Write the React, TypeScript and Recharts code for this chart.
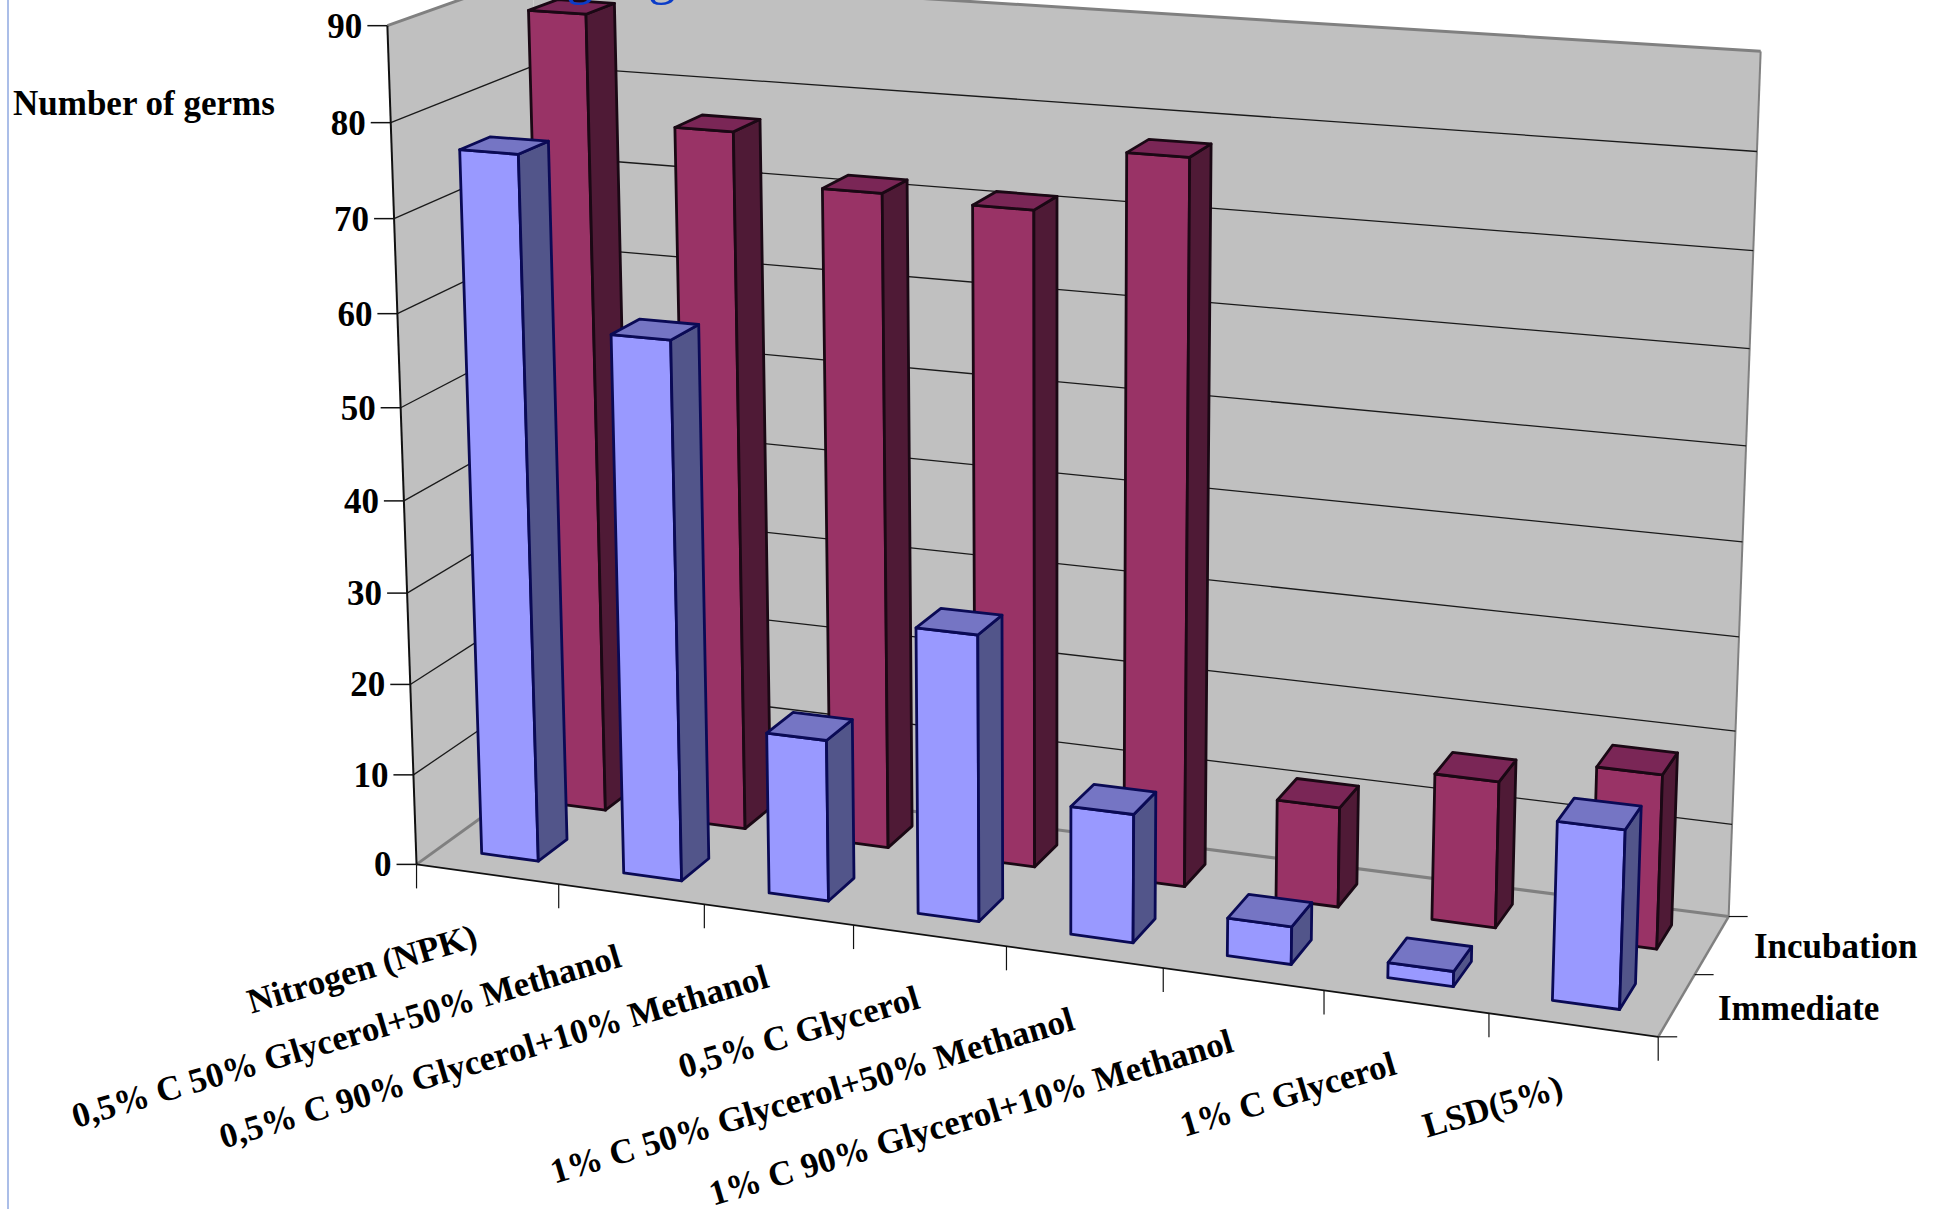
import { BarChart, Bar, XAxis, YAxis, CartesianGrid } from 'recharts';

const WIDTH = 1935;
const HEIGHT = 1209;
// The axes keep one pixel each, the bars and ticks use what is left
const PLOT_LEFT = 1;
const PLOT_WIDTH = WIDTH - 1;
const PLOT_HEIGHT = HEIGHT - 1;
const SERIF = '"Liberation Serif", serif';

const categories = [
  'Nitrogen (NPK)',
  '0,5% C 50% Glycerol+50% Methanol',
  '0,5% C 90% Glycerol+10% Methanol',
  '0,5% C Glycerol',
  '1% C 50% Glycerol+50% Methanol',
  '1% C 90% Glycerol+10% Methanol',
  '1% C Glycerol',
  'LSD(5%)',
];
const immediate = [76.5, 58.4, 17.5, 30.7, 13.7, 4, 1.6, 18.5];
const incubation = [88.2, 76.8, 71.5, 71, 77.7, 10.8, 15.7, 18.5];
const valueTicks = [0, 10, 20, 30, 40, 50, 60, 70, 80, 90];
const seriesNames = ['Immediate', 'Incubation'];
const titleLetters = ['g', 'g'];

const chartData = categories.map((category, i) => ({
  category,
  immediate: immediate[i],
  incubation: incubation[i],
}));

// Known box corners as [across, up, depth, screenX, screenY]
const anchors = [
  [0, 0, 0, 418, 865],
  [0, 1, 0, 387, 24],
  [0, 8 / 9, 0, 391, 123],
  [0, 2 / 9, 0, 410, 684],
  [1, 0, 0, 1657, 1038],
  [0, 0, 1, 553, 765],
  [0, 1, 1, 533, -25],
  [1, 0, 1, 1730, 915],
  [1, 1, 1, 1761, 51],
  [1, 8 / 9, 1, 1757, 152],
  [1, 6 / 9, 1, 1749, 349],
];

// Least squares fit of a 3x4 camera matrix, last entry fixed to 1
function solveCamera(points: number[][]) {
  const rows: number[][] = [];
  const rhs: number[] = [];
  points.forEach(([u, v, d, x, y]) => {
    rows.push([u, v, d, 1, 0, 0, 0, 0, -x * u, -x * v, -x * d]);
    rhs.push(x);
    rows.push([0, 0, 0, 0, u, v, d, 1, -y * u, -y * v, -y * d]);
    rhs.push(y);
  });
  const n = 11;
  const m = Array.from({ length: n }, (_, i) =>
    Array.from({ length: n + 1 }, (_, j) =>
      rows.reduce((sum, row, r) => sum + row[i] * (j === n ? rhs[r] : row[j]), 0),
    ),
  );
  for (let c = 0; c < n; c++) {
    let pivot = c;
    for (let r = c + 1; r < n; r++) if (Math.abs(m[r][c]) > Math.abs(m[pivot][c])) pivot = r;
    [m[c], m[pivot]] = [m[pivot], m[c]];
    for (let r = 0; r < n; r++) {
      if (r === c) continue;
      const f = m[r][c] / m[c][c];
      for (let k = c; k <= n; k++) m[r][k] -= f * m[c][k];
    }
  }
  return m.map((row, i) => row[n] / row[i]);
}

const cam = solveCamera(anchors);

function project(u: number, v: number, d: number) {
  const w = cam[8] * u + cam[9] * v + cam[10] * d + 1;
  return [
    (cam[0] * u + cam[1] * v + cam[2] * d + cam[3]) / w,
    (cam[4] * u + cam[5] * v + cam[6] * d + cam[7]) / w,
  ];
}

const toPoints = (corners: number[][]) =>
  corners.map(([u, v, d]) => project(u, v, d).map((n) => n.toFixed(1)).join(',')).join(' ');

const toAcross = (x: number) => (x - PLOT_LEFT) / PLOT_WIDTH;
const toUp = (y: number) => 1 - y / PLOT_HEIGHT;

function Segment({ from, to, stroke, width = 1.5 }: { from: number[]; to: number[]; stroke: string; width?: number }) {
  const [x1, y1] = project(from[0], from[1], from[2]);
  const [x2, y2] = project(to[0], to[1], to[2]);
  return <line x1={x1} y1={y1} x2={x2} y2={y2} stroke={stroke} strokeWidth={width} />;
}

function Walls() {
  return (
    <g>
      <polygon points={toPoints([[0, 0, 1], [1, 0, 1], [1, 1, 1], [0, 1, 1]])} fill="#C0C0C0" />
      <polygon points={toPoints([[0, 0, 0], [0, 0, 1], [0, 1, 1], [0, 1, 0]])} fill="#C0C0C0" />
      <polygon points={toPoints([[0, 0, 0], [1, 0, 0], [1, 0, 1], [0, 0, 1]])} fill="#C0C0C0" />
      <Segment from={[1, 0, 1]} to={[1, 1, 1]} stroke="#808080" width={2} />
      <Segment from={[0, 1, 1]} to={[1, 1, 1]} stroke="#808080" width={3} />
      <Segment from={[0, 1, 0]} to={[0, 1, 1]} stroke="#808080" width={3} />
      <Segment from={[0, 0, 1]} to={[1, 0, 1]} stroke="#808080" width={3} />
      <Segment from={[0, 0, 0]} to={[0, 0, 1]} stroke="#808080" width={3} />
      <Segment from={[1, 0, 0]} to={[1, 0, 1]} stroke="#808080" width={2.5} />
    </g>
  );
}

// Wall lines at each value tick; the first call also lays down the walls underneath
function gridLine(props: any) {
  const v = toUp(props.y1);
  const inner = v > 0.001 && v < 0.999;
  return (
    <g key={`grid-${props.index}`}>
      {props.index === 0 && <Walls />}
      {inner && <Segment from={[0, v, 0]} to={[0, v, 1]} stroke="#1a1a1a" width={1.3} />}
      {inner && <Segment from={[0, v, 1]} to={[1, v, 1]} stroke="#1a1a1a" width={1.3} />}
    </g>
  );
}

function ValueTick({ y, payload }: any) {
  const [px, py] = project(0, toUp(y), 0);
  return (
    <g>
      <line x1={px - 20} y1={py} x2={px} y2={py} stroke="#111" strokeWidth={1.5} />
      <text x={px - 25} y={py + 12} textAnchor="end" fontFamily={SERIF} fontWeight="bold" fontSize={35} fill="#000">
        {payload.value}
      </text>
    </g>
  );
}

function CategoryTick({ x, payload, index }: any) {
  const step = 1 / categories.length;
  const u = toAcross(x);
  const [tx, ty] = project(u - step / 2, 0, 0);
  const [ex, ey] = project(u + step / 2, 0, 0);
  const [cx, cy] = project(u, 0, 0);
  return (
    <g>
      <line x1={tx} y1={ty} x2={tx} y2={ty + 24} stroke="#111" strokeWidth={1.2} />
      {index === categories.length - 1 && <line x1={ex} y1={ey} x2={ex} y2={ey + 24} stroke="#111" strokeWidth={1.2} />}
      <text
        transform={`translate(${cx - 8},${cy + 72}) rotate(-16.5)`}
        textAnchor="end"
        fontFamily={SERIF}
        fontWeight="bold"
        fontSize={35}
        fill="#000"
      >
        {payload.value}
      </text>
    </g>
  );
}

function barShape(d0: number, d1: number, front: string, side: string, top: string, edge: string) {
  return (props: any) => {
    const u0 = toAcross(props.x);
    const u1 = toAcross(props.x + props.width);
    const v = toUp(props.y);
    const face = { stroke: edge, strokeWidth: 2.8, strokeLinejoin: 'round' as const };
    return (
      <g>
        <polygon points={toPoints([[u0, 0, d0], [u1, 0, d0], [u1, v, d0], [u0, v, d0]])} fill={front} {...face} />
        <polygon points={toPoints([[u1, 0, d0], [u1, 0, d1], [u1, v, d1], [u1, v, d0]])} fill={side} {...face} />
        <polygon points={toPoints([[u0, v, d0], [u1, v, d0], [u1, v, d1], [u0, v, d1]])} fill={top} {...face} />
      </g>
    );
  };
}

const immediateShape = barShape(0.16, 0.37, '#9999FF', '#52558A', '#7575C4', '#0A0A55');
const incubationShape = barShape(0.66, 0.87, '#993366', '#4F1A36', '#7A2656', '#1A0814');

export default function App() {
  const [ax, ay] = project(1, 0, 0);
  const [mx, my] = project(1, 0, 0.5);
  const [bx, by] = project(1, 0, 1);
  return (
    <div style={{ position: 'absolute', left: 0, top: 0, width: WIDTH, height: HEIGHT, background: '#fff' }}>
      <BarChart
        width={WIDTH}
        height={HEIGHT}
        data={chartData}
        margin={{ top: 0, right: 0, bottom: 0, left: 0 }}
        barCategoryGap="30%"
      >
        <CartesianGrid xAxisId="immediate" vertical={false} horizontal={gridLine} />
        <XAxis xAxisId="immediate" dataKey="category" height={1} interval={0} axisLine={false} tickLine={false} tick={<CategoryTick />} />
        <XAxis xAxisId="incubation" dataKey="category" height={0} hide />
        <YAxis domain={[0, 90]} ticks={valueTicks} width={1} interval={0} axisLine={false} tickLine={false} tick={<ValueTick />} />
        <Bar xAxisId="incubation" dataKey="incubation" name={seriesNames[1]} isAnimationActive={false} shape={incubationShape} />
        <Bar xAxisId="immediate" dataKey="immediate" name={seriesNames[0]} isAnimationActive={false} shape={immediateShape} />
      </BarChart>
      <svg width={WIDTH} height={HEIGHT} style={{ position: 'absolute', left: 0, top: 0, pointerEvents: 'none' }}>
        <line x1={8} y1={0} x2={8} y2={HEIGHT} stroke="#8FA8E0" strokeWidth={1.5} />
        <text x={13} y={115} fontFamily={SERIF} fontWeight="bold" fontSize={35}>Number of germs</text>
        <text x={566} y={-7} fontFamily={SERIF} fontSize={56} fill="#0A3CC8">{titleLetters[0]}</text>
        <text x={648} y={-7} fontFamily={SERIF} fontSize={56} fill="#0A3CC8">{titleLetters[1]}</text>
        <Segment from={[0, 1, 0]} to={[0, 0, 0]} stroke="#111" width={2} />
        <line x1={ax} y1={ay} x2={ax + 19} y2={ay} stroke="#111" strokeWidth={1.2} />
        <line x1={mx} y1={my} x2={mx + 19} y2={my} stroke="#111" strokeWidth={1.2} />
        <line x1={bx} y1={by} x2={bx + 19} y2={by} stroke="#111" strokeWidth={1.2} />
        <Segment from={[0, 0, 0]} to={[1, 0, 0]} stroke="#111" width={1.8} />
        <text x={1754} y={958} fontFamily={SERIF} fontWeight="bold" fontSize={35}>{seriesNames[1]}</text>
        <text x={1718} y={1020} fontFamily={SERIF} fontWeight="bold" fontSize={35}>{seriesNames[0]}</text>
      </svg>
    </div>
  );
}
